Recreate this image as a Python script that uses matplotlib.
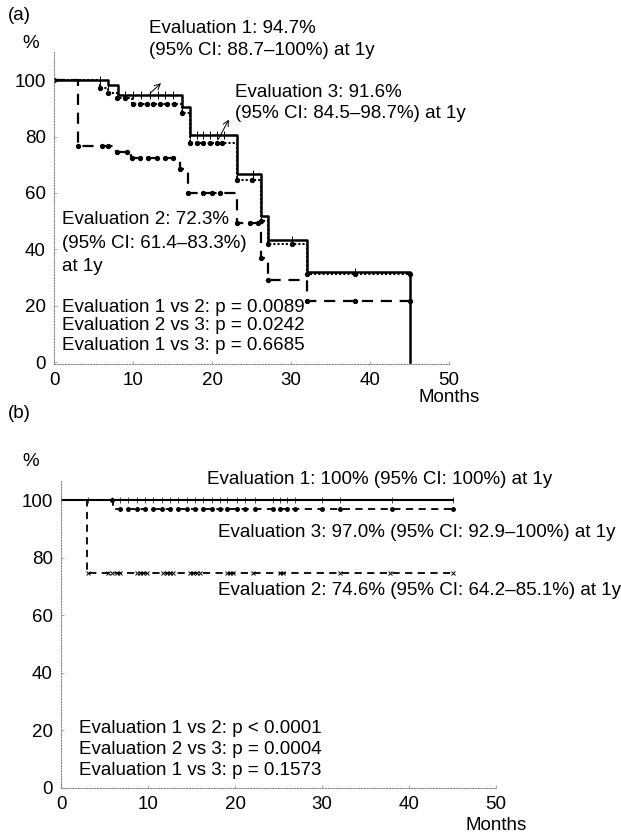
import matplotlib
matplotlib.use("Agg")
import matplotlib.pyplot as plt
import numpy as np

plt.rcParams['font.family'] = ['Liberation Sans', 'DejaVu Sans']

# ---- panel (a): step curves (time in months, survival in %) ----
a_e1_t = [0, 6.8, 8.1, 16.2, 17.2, 23.2, 26.2, 27.1, 32.0, 45.1]
a_e1_s = [100, 98.2, 94.7, 90.4, 80.7, 66.8, 51.8, 43.2, 32.1, 0]
a_e1_cens = [5.8, 6.8, 8.1, 9.0, 10.0, 11.0, 12.2, 13.2, 14.1, 15.1, 16.2, 17.2,
             18.1, 18.9, 19.7, 20.6, 21.5, 23.2, 25.2, 26.2, 27.1, 30.1, 32.0,
             38.1, 45.1]

a_e2_t = [0, 3.0, 7.9, 9.7, 15.9, 17.0, 23.2, 26.2, 27.1, 32.0, 45.1]
a_e2_s = [100, 76.5, 74.6, 72.3, 68.4, 60.0, 49.3, 36.9, 29.1, 21.6, 21.6]
a_e2_cens = [0, 3.0, 6.1, 6.8, 8.0, 9.2, 9.9, 10.9, 11.9, 13.0, 14.1, 15.1, 15.9,
             17.0, 18.9, 20.0, 21.0, 23.2, 24.8, 25.8, 26.2, 27.1, 32.0, 38.1,
             45.1]

a_e3_t = [0, 5.8, 6.8, 8.0, 9.9, 16.2, 17.2, 23.2, 26.2, 27.1, 32.0, 45.1]
a_e3_s = [100, 97.4, 95.5, 93.6, 91.6, 88.3, 77.7, 64.5, 50.0, 41.8, 31.2, 31.2]
a_e3_cens = [5.8, 6.8, 8.0, 9.0, 10.0, 10.9, 11.8, 12.5, 13.4, 14.3, 15.2, 16.2,
             17.2, 18.1, 18.9, 19.7, 20.6, 21.3, 23.2, 25.1, 26.2, 27.1, 30.1,
             32.0, 38.1, 45.1]

# ---- panel (b) ----
b_e1_t = [0, 45.1]
b_e1_s = [100, 100]
b_e1_cens = [0, 3.1, 5.9, 6.8, 7.7, 8.7, 9.7, 10.6, 11.6, 12.5, 13.4, 14.5, 15.4,
             16.3, 17.4, 18.3, 19.1, 20.2, 21.1, 22.3, 24.4, 25.2, 26.0, 26.9,
             30.0, 32.1, 38.0, 45.1]

b_e2_t = [0, 3.0, 45.1]
b_e2_s = [100, 74.6, 74.6]
b_e2_cens = [3.1, 5.4, 5.9, 6.4, 6.8, 8.7, 9.1, 9.4, 9.9, 11.7, 12.2, 12.5, 12.9,
             14.8, 15.2, 15.6, 16.0, 19.1, 19.4, 19.8, 22.1, 25.2, 25.5, 32.1,
             37.8, 45.1]

b_e3_t = [0, 6.0, 45.1]
b_e3_s = [100, 97.0, 97.0]
b_e3_cens = [5.9, 6.8, 7.7, 8.7, 9.7, 10.6, 11.6, 12.5, 13.4, 14.5, 15.4, 16.3,
             17.4, 18.3, 19.1, 20.2, 21.1, 22.3, 24.4, 25.2, 26.0, 26.9, 30.0,
             32.1, 38.0, 45.1]

yticks = [0, 20, 40, 60, 80, 100]
xticks = [0, 10, 20, 30, 40, 50]

a_labels = [
    (12.0, 118.5, "Evaluation 1: 94.7%"),
    (12.0, 110.6, "(95% CI: 88.7\u2013100%) at 1y"),
    (22.9, 95.7, "Evaluation 3: 91.6%"),
    (22.9, 88.3, "(95% CI: 84.5\u201398.7%) at 1y"),
    (1.0, 50.4, "Evaluation 2: 72.3%"),
    (1.0, 42.2, "(95% CI: 61.4\u201383.3%)"),
    (1.0, 34.0, "at 1y"),
    (1.0, 19.5, "Evaluation 1 vs 2: p = 0.0089"),
    (1.0, 12.8, "Evaluation 2 vs 3: p = 0.0242"),
    (1.0, 6.0, "Evaluation 1 vs 3: p = 0.6685"),
]
b_labels = [
    (16.8, 107.0, "Evaluation 1: 100% (95% CI: 100%) at 1y"),
    (18.0, 88.9, "Evaluation 3: 97.0% (95% CI: 92.9\u2013100%) at 1y"),
    (18.0, 68.7, "Evaluation 2: 74.6% (95% CI: 64.2\u201385.1%) at 1y"),
    (2.1, 20.8, "Evaluation 1 vs 2: p < 0.0001"),
    (2.1, 13.5, "Evaluation 2 vs 3: p = 0.0004"),
    (2.1, 6.2, "Evaluation 1 vs 3: p = 0.1573"),
]

FS = 13.5


def level(t_steps, s_steps, t):
    i = np.searchsorted(t_steps, t, side='right') - 1
    return np.asarray(s_steps)[i]


def setup(ax, ylim):
    ax.set_xlim(0, 50)
    ax.set_ylim(*ylim)
    for s in ['top', 'right']:
        ax.spines[s].set_visible(False)
    for s in ['left', 'bottom']:
        ax.spines[s].set_linestyle((0, (1, 1.5)))
        ax.spines[s].set_linewidth(0.8)
        ax.spines[s].set_color('#888888')
    ax.set_xticks(xticks)
    ax.set_yticks(yticks)
    ax.tick_params(labelsize=FS, length=2, width=0.5, direction='in', pad=6,
                   colors='#888888', labelcolor='black')
    ax.patch.set_alpha(0)


fig = plt.figure(figsize=(6.21, 8.35), dpi=100)

# panel (a)
axa = fig.add_axes([54 / 621, 1 - 364 / 835, 395 / 621, 312 / 835])
setup(axa, (-0.7, 110))
axa.step(a_e1_t, a_e1_s, where='post', color='black', lw=1.8)
axa.step(a_e2_t, a_e2_s, where='post', color='black', lw=1.6, ls=(0, (5, 3.5)))
axa.step(a_e3_t, a_e3_s, where='post', color='black', lw=1.5, ls=(0, (1, 1)))
axa.plot(a_e1_cens, level(a_e1_t, a_e1_s, a_e1_cens), ls='none', marker='|',
         ms=6, mew=0.7, color='black')
axa.plot(a_e2_cens, level(a_e2_t, a_e2_s, a_e2_cens), ls='none', marker='o',
         ms=2.8, color='black')
axa.plot(a_e3_cens, level(a_e3_t, a_e3_s, a_e3_cens), ls='none', marker='o',
         ms=2.8, color='black')
axa.annotate('', xy=(13.8, 99.6), xytext=(11.9, 94.7),
             arrowprops=dict(arrowstyle='->', lw=0.7, color='black'))
axa.annotate('', xy=(22.3, 86.9), xytext=(20.6, 78.0),
             arrowprops=dict(arrowstyle='->', lw=0.7, color='black'))
for x, y, s in a_labels:
    axa.text(x, y, s, fontsize=FS, va='center', ha='left', clip_on=False)

# panel (b)
axb = fig.add_axes([61 / 621, 1 - 788 / 835, 435 / 621, 308 / 835])
setup(axb, (0, 107))
axb.step(b_e1_t, b_e1_s, where='post', color='black', lw=1.5)
axb.step(b_e2_t, b_e2_s, where='post', color='black', lw=1.3, ls=(0, (4, 3)))
axb.step(b_e3_t, b_e3_s, where='post', color='black', lw=1.3, ls=(0, (4, 3)))
axb.plot(b_e1_cens, level(b_e1_t, b_e1_s, b_e1_cens), ls='none', marker='|',
         ms=4.5, mew=0.5, color='black')
axb.plot(b_e2_cens, level(b_e2_t, b_e2_s, b_e2_cens), ls='none', marker='x',
         ms=3, mew=0.7, color='black')
axb.plot(b_e3_cens, level(b_e3_t, b_e3_s, b_e3_cens), ls='none', marker='o',
         ms=2.5, color='black')
for x, y, s in b_labels:
    axb.text(x, y, s, fontsize=FS, va='center', ha='left', clip_on=False)

# panel letters, units, axis titles
fig.text(8 / 621, 1 - 15 / 835, "(a)", fontsize=FS, va='center', ha='left')
fig.text(22 / 621, 1 - 43 / 835, "%", fontsize=FS, va='center', ha='left')
fig.text(449 / 621, 1 - 397 / 835, "Months", fontsize=FS, va='center', ha='center')
fig.text(8 / 621, 1 - 413 / 835, "(b)", fontsize=FS, va='center', ha='left')
fig.text(22 / 621, 1 - 462 / 835, "%", fontsize=FS, va='center', ha='left')
fig.text(496 / 621, 1 - 826 / 835, "Months", fontsize=FS, va='center', ha='center')

fig.savefig("out.png", dpi=100)
